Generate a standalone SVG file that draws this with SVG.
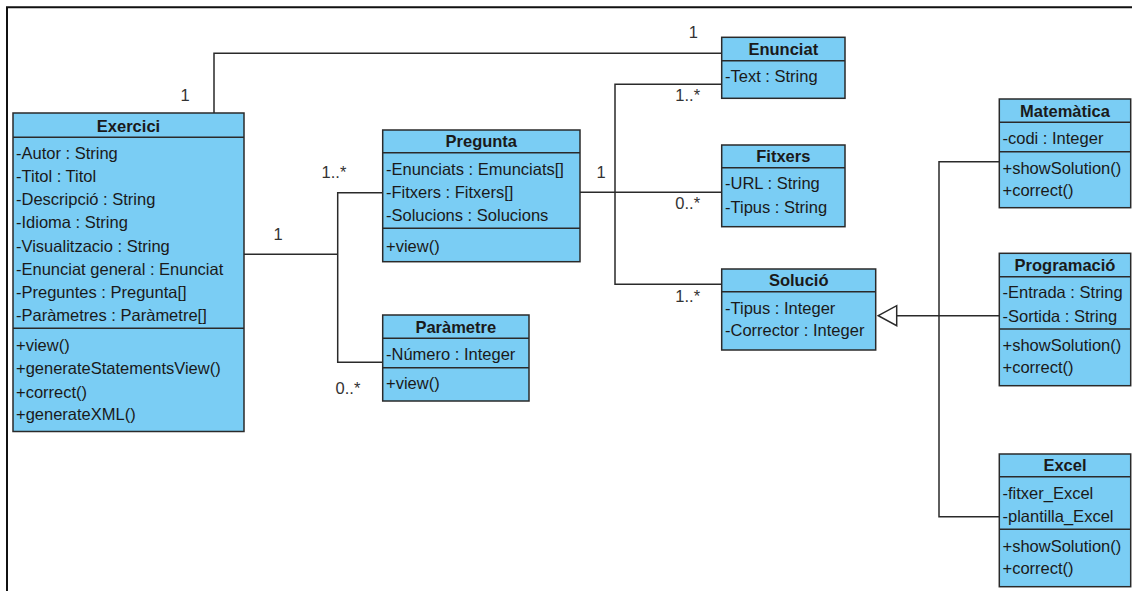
<svg xmlns="http://www.w3.org/2000/svg" width="1132" height="591" viewBox="0 0 1132 591">
<style>
.box{fill:#7acdf4;stroke:#2a2a2a;stroke-width:1.5}
.sep{stroke:#2a2a2a;stroke-width:1.5;fill:none}
.t{font-family:"Liberation Sans",Arial,sans-serif;font-size:16.5px;fill:#1a1a1a}
.h{font-family:"Liberation Sans",Arial,sans-serif;font-size:16.5px;font-weight:bold;fill:#1a1a1a;text-anchor:middle}
.m{font-family:"Liberation Sans",Arial,sans-serif;font-size:16.5px;fill:#333;text-anchor:middle}
.c{stroke:#2a2a2a;stroke-width:1.5;fill:none}
</style>
<rect width="1132" height="591" fill="#fff"/>
<path d="M7,591 V7.3 H1132" fill="none" stroke="#111" stroke-width="2"/>

<g id="connectors">
<path class="c" d="M214,113 V53.3 H721.7"/>
<path class="c" d="M382.7,192.7 H337.7 V362.3 H382.7 M244,254.3 H337.7"/>
<path class="c" d="M580,192.3 H721.7 M721.7,84.3 H615 V284.3 H721.7"/>
<path class="c" d="M999.3,161.7 H939 V516.7 H999.3 M999.3,315.7 H896.7"/>
<polygon class="c" points="878.3,315.7 896.7,305.7 896.7,325.7" fill="#fff"/>
<text class="m" x="185" y="101">1</text>
<text class="m" x="693.3" y="38.3">1</text>
<text class="m" x="278" y="240">1</text>
<text class="m" x="334" y="178.3">1..*</text>
<text class="m" x="348" y="394">0..*</text>
<text class="m" x="601" y="177.7">1</text>
<text class="m" x="687.7" y="101">1..*</text>
<text class="m" x="687.7" y="209">0..*</text>
<text class="m" x="687.7" y="301.7">1..*</text>
</g>

<g id="exercici">
<rect class="box" x="13" y="113" width="231" height="318.5"/>
<path class="sep" d="M13,137.3 H244 M13,328.3 H244"/>
<text class="h" x="128.5" y="131.5">Exercici</text>
<text class="t" x="16" y="158.7">-Autor : String</text>
<text class="t" x="16" y="182">-Titol : Titol</text>
<text class="t" x="16" y="205">-Descripció : String</text>
<text class="t" x="16" y="228.3">-Idioma : String</text>
<text class="t" x="16" y="251.7">-Visualitzacio : String</text>
<text class="t" x="16" y="274.7">-Enunciat general : Enunciat</text>
<text class="t" x="16" y="297.7">-Preguntes : Pregunta[]</text>
<text class="t" x="16" y="321">-Paràmetres : Paràmetre[]</text>
<text class="t" x="16" y="351">+view()</text>
<text class="t" x="16" y="374">+generateStatementsView()</text>
<text class="t" x="16" y="397.7">+correct()</text>
<text class="t" x="16" y="420">+generateXML()</text>
</g>

<g id="pregunta">
<rect class="box" x="382.7" y="130" width="197.3" height="131.7"/>
<path class="sep" d="M382.7,152.7 H580 M382.7,228.3 H580"/>
<text class="h" x="481.3" y="147.2">Pregunta</text>
<text class="t" x="386" y="175.3">-Enunciats : Emunciats[]</text>
<text class="t" x="386" y="198">-Fitxers : Fitxers[]</text>
<text class="t" x="386" y="221">-Solucions : Solucions</text>
<text class="t" x="386" y="251.7">+view()</text>
</g>

<g id="parametre">
<rect class="box" x="382.7" y="315" width="146.3" height="86"/>
<path class="sep" d="M382.7,338.3 H529 M382.7,367.7 H529"/>
<text class="h" x="455.8" y="332.7">Paràmetre</text>
<text class="t" x="386" y="360.3">-Número : Integer</text>
<text class="t" x="386" y="389.3">+view()</text>
</g>

<g id="enunciat">
<rect class="box" x="721.7" y="37.3" width="123.3" height="61"/>
<path class="sep" d="M721.7,60.7 H845"/>
<text class="h" x="783.3" y="55">Enunciat</text>
<text class="t" x="725" y="82">-Text : String</text>
</g>

<g id="fitxers">
<rect class="box" x="721.7" y="145" width="123.3" height="81.7"/>
<path class="sep" d="M721.7,167.7 H845"/>
<text class="h" x="783.3" y="162.3">Fitxers</text>
<text class="t" x="725" y="189.3">-URL : String</text>
<text class="t" x="725" y="212.7">-Tipus : String</text>
</g>

<g id="solucio">
<rect class="box" x="721.7" y="269" width="154" height="81"/>
<path class="sep" d="M721.7,291.7 H875.7"/>
<text class="h" x="798.7" y="286.3">Solució</text>
<text class="t" x="725" y="313.7">-Tipus : Integer</text>
<text class="t" x="725" y="336">-Corrector : Integer</text>
</g>

<g id="matematica">
<rect class="box" x="999.3" y="99" width="131.4" height="108.7"/>
<path class="sep" d="M999.3,122.3 H1130.7 M999.3,151.7 H1130.7"/>
<text class="h" x="1065" y="116.7">Matemàtica</text>
<text class="t" x="1002.5" y="143.7">-codi : Integer</text>
<text class="t" x="1002.5" y="173.7">+showSolution()</text>
<text class="t" x="1002.5" y="196">+correct()</text>
</g>

<g id="programacio">
<rect class="box" x="999.3" y="253.3" width="131.4" height="132.4"/>
<path class="sep" d="M999.3,276.7 H1130.7 M999.3,329 H1130.7"/>
<text class="h" x="1065" y="271">Programació</text>
<text class="t" x="1002.5" y="297.7">-Entrada : String</text>
<text class="t" x="1002.5" y="321.7">-Sortida : String</text>
<text class="t" x="1002.5" y="351">+showSolution()</text>
<text class="t" x="1002.5" y="373.3">+correct()</text>
</g>

<g id="excel">
<rect class="box" x="999.3" y="454" width="131.4" height="132.7"/>
<path class="sep" d="M999.3,476.7 H1130.7 M999.3,529.3 H1130.7"/>
<text class="h" x="1065" y="471.3">Excel</text>
<text class="t" x="1002.5" y="498.7">-fitxer_Excel</text>
<text class="t" x="1002.5" y="522">-plantilla_Excel</text>
<text class="t" x="1002.5" y="552">+showSolution()</text>
<text class="t" x="1002.5" y="574.3">+correct()</text>
</g>
</svg>
